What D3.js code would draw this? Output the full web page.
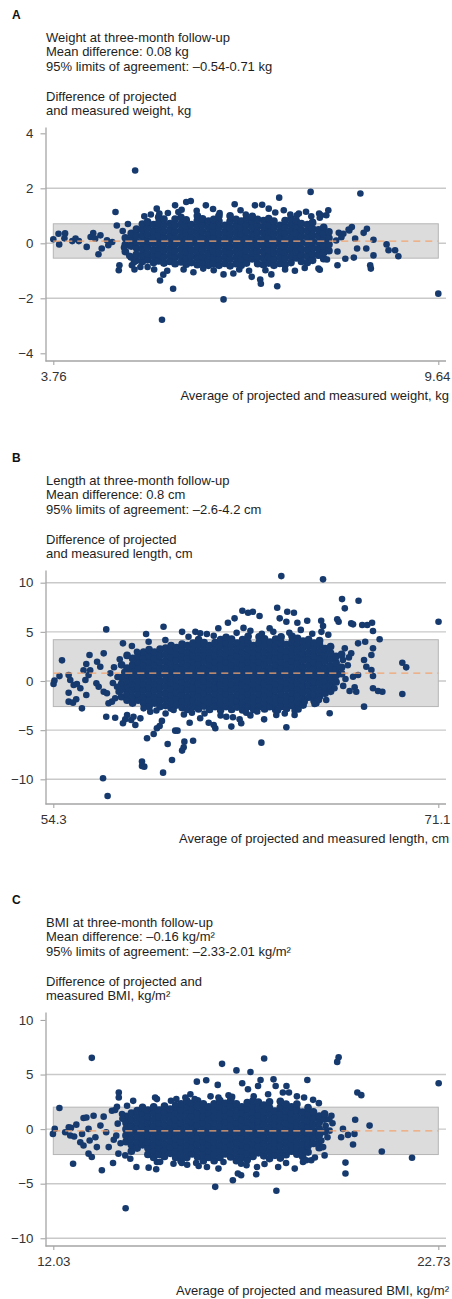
<!DOCTYPE html>
<html><head><meta charset="utf-8">
<script src="https://cdn.jsdelivr.net/npm/d3@7"></script>
<style>
body{margin:0;background:#fff}
svg text{font-family:"Liberation Sans",Arial,Helvetica,sans-serif}
</style></head>
<body><svg id="c" width="452" height="1299"></svg>
<script>
// ---------- Panel A: weight ----------
const titleA = ["Weight at three-month follow-up","Mean difference: 0.08 kg","95% limits of agreement: –0.54-0.71 kg"];
const ylabA = ["Difference of projected","and measured weight, kg"];
const xlabA = "Average of projected and measured weight, kg";
const xTicksA = [3.76, 9.64];
const yTicksA = [4, 2, 0, -2, -4];
const gridA = [2, 0, -2];
const statsA = {mean: 0.08, lo: -0.54, hi: 0.71};
const outA = [[3.76,0.15],[3.85,-0.04],[3.84,0.35],[3.94,0.36],[3.93,0.18],[4.05,0.08],[4.10,0.17],[4.15,0.08],[4.27,-0.13],[4.33,0.23],[4.37,0.37],[4.40,0.17],[4.48,0.29],[4.50,-0.19],[4.45,-0.40],[4.58,0.11],[4.60,-0.07],[4.66,0.05],[4.71,1.14],[4.73,0.65],
[4.76,-0.98],[4.77,-0.80],[4.96,-0.80],[4.99,-0.7],[5.09,-0.86],[5.20,-0.86],[5.39,-1.35],[5.44,-1.14],[5.59,-1.65],[5.42,-2.78],[6.36,-2.04],
[5.15,0.98],[5.34,1.26],[5.38,1.08],[5.51,1.10],[5.62,1.38],[5.79,1.50],[5.86,1.54],[5.67,1.14],[6.09,1.38],[6.53,1.42],[5.01,2.65],
[7.21,1.66],[7.69,1.87],[8.45,1.81],[6.84,1.38],[6.95,1.40],[7.05,1.26],[7.28,1.20],[7.51,1.08],[7.48,1.02],[7.82,1.08],[7.96,1.20],[7.93,1.02],[7.85,1.02],[7.83,0.93],
[8.12,0.38],[8.19,0.35],[8.27,0.50],[8.32,0.59],[8.37,0.17],[8.50,0.38],[8.55,0.53],[8.65,0.13],[8.54,-0.19],[8.40,-0.19],[8.65,-0.44],[8.85,-0.04],[8.88,-0.25],[8.98,-0.25],[9.03,-0.47],[8.22,-0.56],[8.35,-0.52],[8.10,-0.80],[8.60,-0.80],[8.61,-0.92],[7.94,-0.59],[7.81,-0.92],[9.64,-1.83],[8.28,0.47],
[6.79,-1.22],[6.92,-1.32],[6.93,-1.47],[7.18,-1.56],[7.09,-1.13],[6.36,-1.13],[6.51,-1.10],[6.21,-0.98],[7.83,-0.96],
[5.25,1.05],[5.72,1.22],[5.95,1.18],[6.2,1.25],[6.3,1.1],[6.62,1.2],[6.7,1.05],[7.15,1.12],[7.38,1.05],[7.62,1.15],[7.7,0.98],
[5.0,-0.95],[5.3,-0.95],[5.5,-1.0],[5.75,-0.95],[5.9,-1.05],[6.05,-0.92],[6.6,-0.95],[6.75,-1.0],[7.0,-0.98],[7.3,-0.95],[7.45,-1.0],[7.6,-0.9],
[4.82,0.45],[4.84,-0.15],[4.9,0.7],[4.92,-0.45],[8.08,0.1],[8.1,-0.3],[8.16,0.22]];
const coreA = [
[4.86,-0.3,-0.05,0.2],
[4.95,-0.5,-0.1,0.13,0.36],
[5.03,-0.62,-0.4,-0.16,0.07,0.3,0.52],
[5.12,-0.66,-0.44,-0.21,0.02,0.25,0.48,0.7],
[5.2,-0.6,-0.37,-0.14,0.09,0.32,0.55,0.78],
[5.29,-0.7,-0.47,-0.24,0,0.22,0.45,0.68],
[5.37,-0.64,-0.41,-0.18,0.05,0.28,0.51,0.74,0.95],
[5.45,-0.72,-0.49,-0.26,-0.03,0.2,0.43,0.66,0.88],
[5.54,-0.66,-0.43,-0.2,0.03,0.26,0.49,0.72],
[5.62,-0.74,-0.5,-0.27,-0.04,0.19,0.42,0.65,0.88],
[5.71,-0.68,-0.45,-0.22,0.01,0.24,0.47,0.7,0.94],
[5.79,-0.76,-0.53,-0.3,-0.07,0.16,0.39,0.62,0.85],
[5.87,-0.7,-0.47,-0.24,0,0.22,0.45,0.68],
[5.96,-0.78,-0.55,-0.32,-0.09,0.14,0.37,0.6,0.83,1.0],
[6.04,-0.72,-0.49,-0.26,-0.03,0.2,0.43,0.66,0.89],
[6.13,-0.8,-0.57,-0.34,-0.11,0.12,0.35,0.58,0.81],
[6.21,-0.74,-0.51,-0.28,-0.05,0.18,0.41,0.64,0.87],
[6.29,-0.8,-0.57,-0.34,-0.11,0.12,0.35,0.58,0.81,1.0],
[6.38,-0.73,-0.5,-0.27,-0.04,0.19,0.42,0.65],
[6.46,-0.82,-0.58,-0.35,-0.12,0.11,0.34,0.57,0.8,1.0],
[6.55,-0.74,-0.51,-0.28,-0.05,0.18,0.41,0.64,0.87],
[6.63,-0.8,-0.57,-0.34,-0.11,0.12,0.35,0.58,0.81],
[6.71,-0.72,-0.49,-0.26,-0.03,0.2,0.43,0.66,0.89],
[6.8,-0.57,-0.34,-0.11,0.12,0.35,0.58,0.81,0.98],
[6.88,-0.74,-0.51,-0.28,-0.05,0.18,0.41,0.64,0.87],
[6.97,-0.78,-0.55,-0.32,-0.09,0.14,0.37,0.6,0.83],
[7.05,-0.72,-0.49,-0.26,-0.03,0.2,0.43,0.66,0.9],
[7.13,-0.8,-0.57,-0.34,-0.11,0.12,0.35,0.58,0.81],
[7.22,-0.73,-0.5,-0.27,-0.04,0.19,0.42,0.65],
[7.3,-0.78,-0.55,-0.32,-0.09,0.14,0.37,0.6,0.83],
[7.39,-0.7,-0.47,-0.24,-0.01,0.22,0.45,0.68,0.9],
[7.47,-0.53,-0.3,-0.07,0.16,0.39,0.62,0.82],
[7.55,-0.66,-0.43,-0.2,0.03,0.26,0.49,0.72],
[7.64,-0.7,-0.47,-0.24,-0.01,0.22,0.45,0.68],
[7.72,-0.62,-0.39,-0.16,0.07,0.3,0.53,0.76],
[7.81,-0.43,-0.2,0.03,0.26,0.49],
[7.89,-0.56,-0.33,-0.1,0.13,0.36,0.58],
[7.97,-0.27,-0.04,0.19,0.42]];

// ---------- Panel B: length ----------
const titleB = ["Length at three-month follow-up","Mean difference: 0.8 cm","95% limits of agreement: –2.6-4.2 cm"];
const ylabB = ["Difference of projected","and measured length, cm"];
const xlabB = "Average of projected and measured length, cm";
const xTicksB = [54.3, 71.1];
const yTicksB = [10, 5, 0, -5, -10];
const gridB = [10, 5, 0, -5, -10];
const statsB = {mean: 0.8, lo: -2.6, hi: 4.2};
const outB = [[54.31,-0.3],[54.35,0.05],[54.68,2.1],[54.57,0.5],[54.97,0.6],[55.04,0.1],[54.97,-1.19],[54.97,-2.1],[55.16,-2.2],[55.3,-1.86],[55.19,-0.4],[55.33,-0.3],[55.48,-0.74],[55.55,-2.78],[55.74,-1.42],[55.7,0.1],[55.62,1.1],[55.91,1.1],[55.84,0.6],[56.18,-0.24],[56.28,-0.58],[56.35,1.45],[56.21,1.96],[56.5,-1.09],[56.61,-3.63],[56.64,-1.25],[56.79,0.78],[56.86,-2.1],[57.0,-3.73],[57.0,-1.76],[57.08,-0.58],[56.71,-2.27],[55.88,2.64],[55.74,1.73],[56.5,2.81],[56.61,5.25],
[56.47,-9.89],[56.67,-11.69],[57.34,-4.3],[57.44,-3.9],[57.7,-3.96],[57.88,-4.47],[57.8,-3.63],[57.52,-3.46],[58.1,-3.8],[58.17,-8.2],[58.17,-8.64],[58.27,-8.71],[58.39,-5.82],[58.68,-5.39],[58.82,-4.81],[58.94,-4.57],[59.04,-4.06],[59.09,-9.32],[59.29,-6.4],[59.48,-8.03],[59.62,-5.05],[59.72,-5.05],[59.92,-7.08],[59.99,-6.74],[60.02,-6.17],[60.4,-6.07],[60.25,-4.24],[60.71,-3.79],[61.08,-4.24],[61.37,-4.81],[61.3,-4.47],[60.35,-3.22],[59.55,-2.95],[58.53,-3.12],[58.24,-2.78],
[58.35,4.78],[59.11,5.52],[59.92,5.0],[57.34,3.83],[57.73,3.56],[57.95,2.98],[58.46,3.99],[59.19,4.17],[60.5,5.0],[60.71,4.85],[61.0,4.78],[61.5,5.36],
[64.25,10.67],[66.07,10.34],[66.9,8.33],[67.62,8.16],[67.02,7.39],[64.07,7.45],[62.55,7.15],[62.8,6.94],[63.01,7.04],[63.3,6.61],[64.51,7.04],[64.8,6.94],[64.18,6.37],[64.47,6.03],[64.95,5.92],[65.38,6.13],[65.99,6.13],[66.07,5.59],[66.69,6.27],[66.75,6.03],[67.3,5.86],[67.38,5.76],[67.78,5.69],[68.0,5.69],[68.21,5.92],[68.25,5.08],[68.54,4.24],[71.11,6.03],[62.21,6.37],[61.92,5.92],[63.74,5.36],
[69.53,1.86],[69.7,1.39],[69.53,-1.32],[68.25,-0.74],[68.47,-1.02],[68.66,-1.09],[67.86,-2.61],[66.36,-3.28],[65.78,-2.27],[64.47,-4.71],[63.38,-6.27],[64.83,-3.46],[64.83,-3.02],[63.74,-2.67],[64.03,-3.46],[64.1,-3.0],[62.5,-4.3],[62.43,-3.89],[62.07,-4.64],[62.14,-3.69],[62.72,-3.22],[61.85,-3.63],
[68.25,0.51],[68.18,1.12],[68.18,2.64],[68.25,3.32],[67.91,3.99],[67.6,3.83],[67.86,2.13],[67.96,1.45],[67.6,0.61],[67.38,0.44],[67.45,-0.64],[67.52,-1.09],[67.23,-1.02],[66.57,-0.74],[66.21,-1.93],[65.89,-1.93],[65.7,-2.34],[65.27,-2.1],[67.02,3.32],[66.94,2.13],[67.3,2.81],[66.79,1.45],
[62.3,4.9],[62.9,5.1],[63.4,4.8],[63.9,5.0],[64.6,4.9],[65.1,5.2],[65.6,4.8],[66.3,4.7],[66.0,5.0],[62.6,5.4],[61.3,4.6],[60.2,4.5],
[60.9,-3.3],[61.6,-3.5],[62.9,-3.5],[63.2,-3.1],[63.5,-3.9],[64.4,-3.3],[65.0,-2.9],[60.0,-3.4],[59.2,-3.3],[58.8,-3.0],
[56.9,-0.2],[56.95,1.4],[57.1,0.4],[57.15,-1.1],[57.2,2.2],[57.3,-0.9],[57.4,0.9],[67.05,0.2],[67.15,1.6],[67.2,2.4],[66.95,-0.5]];
const coreB = [
[57.28,-1.6,-0.3,0.35,1.65],
[57.52,-1.95,-1.3,-0.65,0,0.65,1.3,2.6],
[57.76,-2.25,-1.6,-0.95,-0.3,0.35,1.0,1.65,2.3],
[58.0,-1.95,-1.3,-0.65,0,0.65,1.3,1.95,2.6],
[58.24,-2.25,-1.6,-0.95,-0.3,0.35,1.0,1.65,2.3,2.95],
[58.48,-2.6,-1.95,-1.3,-0.65,0,0.65,1.3,1.95,2.6,3.2],
[58.72,-2.25,-1.6,-0.95,-0.3,0.35,1.0,1.65,2.3,2.95],
[58.96,-2.6,-1.95,-1.3,-0.65,0,0.65,1.3,1.95,2.6,3.25],
[59.2,-2.5,-1.85,-1.2,-0.55,0.1,0.75,1.4,2.05,2.7,3.35],
[59.44,-2.75,-2.1,-1.45,-0.8,-0.15,0.5,1.15,1.8,2.45,3.1,3.6],
[59.68,-2.45,-1.8,-1.15,-0.5,0.15,0.8,1.45,2.1,2.75,3.4],
[59.92,-2.7,-2.05,-1.4,-0.75,-0.1,0.55,1.2,1.85,2.5,3.15,3.75],
[60.16,-2.9,-2.25,-1.6,-0.95,-0.3,0.35,1.0,1.65,2.3,2.95,3.6],
[60.4,-2.6,-1.95,-1.3,-0.65,0,0.65,1.3,1.95,2.6,3.25,3.85],
[60.64,-2.85,-2.2,-1.55,-0.9,-0.25,0.4,1.05,1.7,2.35,3.0,3.65,4.2],
[60.88,-2.55,-1.9,-1.25,-0.6,0.05,0.7,1.35,2.0,2.65,3.3,3.9],
[61.12,-2.9,-2.25,-1.6,-0.95,-0.3,0.35,1.0,1.65,2.3,2.95,3.6],
[61.36,-2.6,-1.95,-1.3,-0.65,0,0.65,1.3,1.95,2.6,3.25,3.9],
[61.6,-2.95,-2.3,-1.65,-1.0,-0.35,0.3,0.95,1.6,2.25,2.9,3.55,4.2],
[61.84,-2.6,-1.95,-1.3,-0.65,0,0.65,1.3,1.95,2.6,3.25,3.9,4.45],
[62.08,-2.9,-2.25,-1.6,-0.95,-0.3,0.35,1.0,1.65,2.3,2.95,3.6,4.25],
[62.32,-2.65,-2.0,-1.35,-0.7,-0.05,0.6,1.25,1.9,2.55,3.2,3.85],
[62.56,-2.95,-2.3,-1.65,-1.0,-0.35,0.3,0.95,1.6,2.25,2.9,3.55,4.2],
[62.8,-2.6,-1.95,-1.3,-0.65,0,0.65,1.3,1.95,2.6,3.25,3.9,4.55],
[63.04,-2.9,-2.25,-1.6,-0.95,-0.3,0.35,1.0,1.65,2.3,2.95,3.6],
[63.28,-2.6,-1.95,-1.3,-0.65,0,0.65,1.3,1.95,2.6,3.25,3.9,4.5],
[63.52,-2.85,-2.2,-1.55,-0.9,-0.25,0.4,1.05,1.7,2.35,3.0,3.65,4.3],
[63.76,-2.55,-1.9,-1.25,-0.6,0.05,0.7,1.35,2.0,2.65,3.3,3.95],
[64.0,-2.9,-2.25,-1.6,-0.95,-0.3,0.35,1.0,1.65,2.3,2.95,3.6,4.25],
[64.24,-2.6,-1.95,-1.3,-0.65,0,0.65,1.3,1.95,2.6,3.25,3.9,4.5],
[64.48,-2.8,-2.15,-1.5,-0.85,-0.2,0.45,1.1,1.75,2.4,3.05,3.7],
[64.72,-2.5,-1.85,-1.2,-0.55,0.1,0.75,1.4,2.05,2.7,3.35,4.0,4.55],
[64.96,-2.75,-2.1,-1.45,-0.8,-0.15,0.5,1.15,1.8,2.45,3.1,3.75,4.35],
[65.2,-2.45,-1.8,-1.15,-0.5,0.15,0.8,1.45,2.1,2.75,3.4,4.05],
[65.44,-1.65,-1.0,-0.35,0.3,0.95,1.6,2.25,2.9,3.55,4.2],
[65.68,-2.0,-1.35,-0.7,-0.05,0.6,1.25,1.9,2.55,3.2,3.85],
[65.92,-1.55,-0.9,-0.25,0.4,1.05,1.7,2.35,3.0,3.65,4.1],
[66.16,-1.25,-0.6,0.05,0.7,1.35,2.0,2.65,3.3],
[66.4,-1.05,-0.4,0.25,0.9,1.55,2.2,2.85,3.5],
[66.64,-0.1,0.55,1.2,1.85,2.5],
[66.88,0.75,1.4,2.7]];

// ---------- Panel C: BMI ----------
const titleC = ["BMI at three-month follow-up","Mean difference: –0.16 kg/m²","95% limits of agreement: –2.33-2.01 kg/m²"];
const ylabC = ["Difference of projected and","measured BMI, kg/m²"];
const xlabC = "Average of projected and measured BMI, kg/m²";
const xTicksC = [12.03, 22.73];
const yTicksC = [10, 5, 0, -5, -10];
const gridC = [5, 0, -5, -10];
const statsC = {mean: -0.16, lo: -2.33, hi: 2.01};
const outC = [[12.02,-0.44],[12.07,0.02],[12.2,1.93],[12.36,-0.29],[12.46,0.16],[12.52,0.11],[12.5,-0.59],[12.61,-0.68],[12.67,0.41],[12.58,-3.17],[12.78,-1.2],[12.83,-0.44],[12.87,1.02],[12.95,1.07],[12.87,-1.5],[13.01,-2.25],[13.1,-2.56],[13.01,0.02],[13.04,-1.05],[13.15,1.23],[13.2,-0.74],[13.24,-1.65],[13.34,0.32],[13.38,-3.77],[13.43,1.14],[13.5,-0.29],[13.57,-1.65],[13.69,-3.11],[13.66,1.68],[13.8,2.05],[13.84,-2.25],[14.04,-7.25],[14.08,2.14],[14.03,-2.41],[14.17,-2.71],[14.34,-3.47],[14.68,-3.53],[14.89,-3.68],[14.91,-3.02],[13.71,-0.98],
[16.53,-5.29],[15.37,-3.17],[15.75,-3.26],[16.07,-3.38],[16.3,-3.47],[16.62,-3.62],[16.76,-3.02],
[13.1,6.53],[13.85,3.35],[14.25,2.59],[13.85,2.89],[14.86,2.89],[14.91,2.75],[15.45,2.75],[15.7,2.89],[15.84,3.2],[15.96,2.75],[16.02,4.35],[16.28,4.47],[16.6,4.05],[16.72,5.98],[16.62,2.89],[13.75,1.75],[13.94,1.38],[14.63,1.68],[15.42,2.23],
[17.89,6.47],[19.96,6.59],[19.92,6.16],[17.12,5.38],[17.51,5.23],[22.74,4.2],[20.48,3.35],[20.59,3.11],[17.79,4.5],[18.15,4.56],[19.09,4.5],[18.21,3.95],[18.51,3.95],[18.41,3.35],[18.58,3.35],[19.25,2.68],[19.41,2.38],[17.28,4.2],[17.44,3.65],[17.72,3.95],
[20.42,0.86],[20.82,0.32],[21.16,-2.05],[22.0,-2.62],[20.36,-1.41],[20.4,-0.44],[20.15,-3.07],[20.15,-4.07],[19.76,1.23],[19.79,0.53],[20.08,0.02],[20.22,-0.53],[20.03,-0.74],[19.57,-2.41],[19.53,-1.65],[19.2,-2.86],[18.97,-3.02],[18.74,-3.62],[18.23,-5.65],[18.28,-3.47],[17.67,-4.14],[17.69,-3.47],[17.16,-4.07],[17.25,-4.23],[17.02,-4.68],[17.25,-3.17],[19.06,-2.86],[19.48,-1.05],[19.71,-0.14],
[16.9,3.1],[17.0,2.95],[17.6,3.0],[18.0,3.2],[18.8,3.0],[19.0,2.9],[16.4,3.0],[15.3,2.6],
[15.0,-3.0],[15.6,-3.1],[16.0,-3.1],[17.4,-3.3],[17.9,-3.2],[18.5,-3.1],[19.3,-2.6],
[13.78,-0.6],[13.82,0.5],[13.9,-1.3],[13.95,0.95],[19.6,0.3],[19.65,-0.75],[19.7,0.9]];
const coreC = [
[14.05,-1.16,-0.58,0,0.58,1.16],
[14.2,-2.02,-1.44,-0.86,-0.28,0.3,0.88,1.46],
[14.36,-1.74,-1.16,-0.58,0,0.58,1.16,1.7],
[14.51,-1.44,-0.86,-0.28,0.3,0.88,1.46,2.0],
[14.66,-2.32,-1.74,-1.16,-0.58,0,0.58,1.16,1.74],
[14.82,-2.6,-2.02,-1.44,-0.86,-0.28,0.3,0.88,1.46,2.04],
[14.97,-2.32,-1.74,-1.16,-0.58,0,0.58,1.16,1.74],
[15.12,-2.5,-1.92,-1.34,-0.76,-0.18,0.4,0.98,1.56,2.1],
[15.28,-2.22,-1.64,-1.06,-0.48,0.1,0.68,1.26,1.84],
[15.43,-2.6,-2.02,-1.44,-0.86,-0.28,0.3,0.88,1.46,2.04],
[15.58,-2.9,-2.32,-1.74,-1.16,-0.58,0,0.58,1.16,1.74,2.32],
[15.74,-2.6,-2.02,-1.44,-0.86,-0.28,0.3,0.88,1.46,2.04,2.6],
[15.89,-2.27,-1.69,-1.11,-0.53,0.05,0.63,1.21,1.79,2.37],
[16.04,-2.55,-1.97,-1.39,-0.81,-0.23,0.35,0.93,1.51,2.09,2.6],
[16.2,-2.9,-2.32,-1.74,-1.16,-0.58,0,0.58,1.16,1.74,2.32],
[16.35,-2.6,-2.02,-1.44,-0.86,-0.28,0.3,0.88,1.46,2.04],
[16.5,-2.9,-2.32,-1.74,-1.16,-0.58,0,0.58,1.16,1.74,2.32],
[16.66,-2.6,-2.02,-1.44,-0.86,-0.28,0.3,0.88,1.46,2.04,2.62],
[16.81,-2.27,-1.69,-1.11,-0.53,0.05,0.63,1.21,1.79,2.37],
[16.96,-2.55,-1.97,-1.39,-0.81,-0.23,0.35,0.93,1.51,2.09,2.65],
[17.12,-2.9,-2.32,-1.74,-1.16,-0.58,0,0.58,1.16,1.74,2.32],
[17.27,-2.6,-2.02,-1.44,-0.86,-0.28,0.3,0.88,1.46,2.04],
[17.42,-2.8,-2.22,-1.64,-1.06,-0.48,0.1,0.68,1.26,1.84,2.42],
[17.58,-2.5,-1.92,-1.34,-0.76,-0.18,0.4,0.98,1.56,2.14,2.6],
[17.73,-2.17,-1.59,-1.01,-0.43,0.15,0.73,1.31,1.89,2.47],
[17.88,-2.45,-1.87,-1.29,-0.71,-0.13,0.45,1.03,1.61,2.19],
[18.04,-2.7,-2.12,-1.54,-0.96,-0.38,0.2,0.78,1.36,1.94,2.5],
[18.19,-2.4,-1.82,-1.24,-0.66,-0.08,0.5,1.08,1.66],
[18.34,-2.65,-2.07,-1.49,-0.91,-0.33,0.25,0.83,1.41,1.99,2.55],
[18.5,-2.35,-1.77,-1.19,-0.61,-0.03,0.55,1.13,1.71,2.29],
[18.65,-2.02,-1.44,-0.86,-0.28,0.3,0.88,1.46,2.04],
[18.8,-2.3,-1.72,-1.14,-0.56,0.02,0.6,1.18,1.76,2.3],
[18.96,-2.5,-1.92,-1.34,-0.76,-0.18,0.4,0.98,1.56],
[19.11,-2.1,-1.52,-0.94,-0.36,0.22,0.8,1.38,1.96],
[19.26,-1.32,-0.74,-0.16,0.42,1.0,1.58],
[19.42,-1.7,-1.12,-0.54,0.04,0.62,1.2],
[19.57,-0.24,0.92,1.4]];

// ---------- drawing ----------
const svg = d3.select('#c');
const DOT = '#163a6e', GRID = '#c9c9c9', AXIS = '#a5a5a5', TXT = '#1e1e1e', TICK = '#333';
const FS = 13;

const panels = [
  {off:0,   letter:'A', title:titleA, ylab:ylabA, xlab:xlabA, xlabY:400, xTicks:xTicksA, xFmt:'.2f', yTicks:yTicksA, grid:gridA, yDom:[-4.28,4.23], stats:statsA, core:coreA, out:outA},
  {off:443, letter:'B', title:titleB, ylab:ylabB, xlab:xlabB, xlabY:400, xTicks:xTicksB, xFmt:'.1f', yTicks:yTicksB, grid:gridB, yDom:[-12.51,11.29], stats:statsB, core:coreB, out:outB},
  {off:885, letter:'C', title:titleC, ylab:ylabC, xlab:xlabC, xlabY:410, xTicks:xTicksC, xFmt:'.2f', yTicks:yTicksC, grid:gridC, yDom:[-10.71,10.73], stats:statsC, core:coreC, out:outC}
];

panels.forEach(p => {
  const g = svg.append('g').attr('transform', `translate(0,${p.off})`);
  const x = d3.scaleLinear().domain(d3.extent(p.xTicks)).range([53.3, 438.3]);
  const y = d3.scaleLinear().domain(p.yDom).range([361, 127]);
  const L = 45.5, R = 446;

  g.append('text').attr('x', 12).attr('y', 18.5).attr('font-size', 12).attr('font-weight', 'bold').attr('fill', '#111').text(p.letter);
  p.title.forEach((t, i) => g.append('text').attr('x', 46).attr('y', 42.3 + i * 14.1).attr('font-size', FS).attr('fill', TXT).text(t));
  p.ylab.forEach((t, i) => g.append('text').attr('x', 46).attr('y', 101.3 + i * 14.1).attr('font-size', FS).attr('fill', TXT).text(t));

  // gridlines
  g.selectAll('line.grid').data(p.grid).join('line').attr('class','grid')
    .attr('x1', L).attr('x2', R).attr('y1', d => y(d)).attr('y2', d => y(d))
    .attr('stroke', GRID).attr('stroke-width', 1.4);

  // limits-of-agreement box
  const [x0, x1] = d3.extent(p.xTicks);
  g.append('rect').attr('x', x(x0)).attr('y', y(p.stats.hi)).attr('width', x(x1) - x(x0)).attr('height', y(p.stats.lo) - y(p.stats.hi))
    .attr('fill', '#dcdcdc').attr('stroke', '#b5b5b5').attr('stroke-width', 1);

  // points: dense core then individual points
  const corePts = [];
  p.core.forEach(c => c.slice(1).forEach(v => corePts.push({x: c[0], y: v})));
  g.append('g').selectAll('circle').data(corePts).join('circle')
    .attr('cx', d => x(d.x)).attr('cy', d => y(d.y)).attr('r', 3.85).attr('fill', DOT);
  g.append('g').selectAll('circle').data(p.out.map(d => ({x: d[0], y: d[1]}))).join('circle')
    .attr('cx', d => x(d.x)).attr('cy', d => y(d.y)).attr('r', 3.3).attr('fill', DOT);

  // mean line
  g.append('line').attr('x1', x(x0)).attr('x2', x(x1)).attr('y1', y(p.stats.mean)).attr('y2', y(p.stats.mean))
    .attr('stroke', '#f0a472').attr('stroke-width', 1.3).attr('stroke-dasharray', '7,5');

  // y axis
  const ya = g.append('g').attr('transform', `translate(${L},0)`)
    .call(d3.axisLeft(y).tickValues(p.yTicks).tickSize(5).tickSizeOuter(0).tickPadding(7).tickFormat(d3.format('d')));
  ya.select('.domain').attr('stroke', AXIS).attr('stroke-width', 1.3);
  ya.selectAll('.tick line').attr('stroke', AXIS).attr('stroke-width', 1.1);
  ya.selectAll('.tick text').attr('font-size', 13.3).attr('fill', TICK).attr('font-family', '"Liberation Sans",Arial,sans-serif');

  // x axis
  g.append('line').attr('x1', L).attr('x2', R).attr('y1', 361).attr('y2', 361).attr('stroke', AXIS).attr('stroke-width', 1.3);
  const xa = g.append('g').attr('transform', 'translate(0,361)')
    .call(d3.axisBottom(x).tickValues(p.xTicks).tickSize(4).tickSizeOuter(0).tickPadding(7).tickFormat(d3.format(p.xFmt)));
  xa.select('.domain').remove();
  xa.selectAll('.tick line').attr('stroke', AXIS).attr('stroke-width', 1.1);
  xa.selectAll('.tick text').attr('font-size', 13.3).attr('fill', TICK).attr('font-family', '"Liberation Sans",Arial,sans-serif')
    .each(function(d) {
      const w = this.getComputedTextLength();
      const right = x(d) + w / 2;
      if (right > 450) d3.select(this).attr('dx', 450 - right);
    });

  g.append('text').attr('x', 449).attr('y', p.xlabY).attr('text-anchor', 'end').attr('font-size', FS).attr('fill', TXT).text(p.xlab);
});
</script>
</body></html>
